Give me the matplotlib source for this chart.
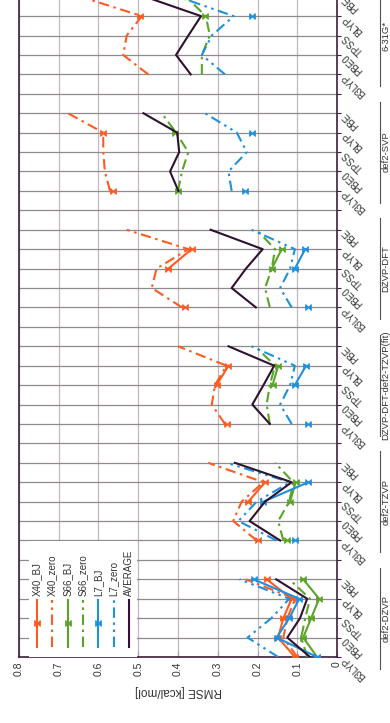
import numpy as np
import matplotlib.pyplot as plt
from matplotlib.path import Path

plt.rcParams["font.family"] = ["Liberation Sans", "DejaVu Sans"]

groups = ["def2-DZVP", "def2-TZVP", "DZVP-DFT-def2-TZVP(fit)", "DZVP-DFT", "def2-SVP", "6-31G*"]
functionals = ["B3LYP", "PBE0", "TPSS", "BLYP", "PBE"]
nan = np.nan

# RMSE per basis set, functionals in the order above
x40_bj = [0.106, 0.148, 0.135, 0.114, 0.177,
          0.198, nan, 0.223, 0.181, nan,
          0.276, nan, 0.303, 0.273, nan,
          0.382, nan, 0.424, 0.366, nan,
          0.563, nan, nan, 0.588, nan,
          nan, nan, nan, 0.496, nan]
x40_zero = [0.100, 0.135, 0.125, 0.105, 0.230,
            0.202, 0.261, 0.240, 0.185, 0.324,
            0.282, 0.315, 0.307, 0.278, 0.400,
            0.390, 0.466, 0.454, 0.374, 0.529,
            0.571, 0.584, 0.588, 0.588, 0.677,
            0.475, 0.538, 0.529, 0.491, 0.645]
s66_bj = [0.050, 0.085, 0.065, 0.045, 0.085,
          0.127, nan, 0.118, 0.104, nan,
          nan, nan, 0.162, 0.148, nan,
          nan, nan, 0.164, 0.139, nan,
          0.399, nan, nan, 0.408, nan,
          nan, nan, nan, 0.332, nan]
s66_zero = [0.075, 0.090, 0.080, 0.068, 0.120,
            0.135, 0.148, 0.120, 0.110, 0.156,
            0.169, 0.177, 0.169, 0.156, 0.206,
            0.169, 0.181, 0.164, 0.156, 0.202,
            0.400, 0.390, 0.374, 0.405, 0.441,
            0.340, 0.340, 0.320, 0.330, 0.380]
l7_bj = [0.050, 0.152, 0.120, 0.095, 0.210,
         0.106, nan, 0.185, 0.072, nan,
         0.072, nan, 0.106, 0.078, nan,
         0.072, nan, 0.106, 0.080, nan,
         0.231, nan, nan, 0.215, nan,
         nan, nan, nan, 0.215, nan]
l7_zero = [0.148, 0.225, 0.165, 0.120, 0.245,
           0.152, 0.248, 0.202, 0.118, 0.278,
           0.114, 0.143, 0.118, 0.106, 0.215,
           0.114, 0.143, 0.118, 0.106, 0.215,
           0.265, 0.273, 0.227, 0.252, 0.332,
           0.282, 0.340, 0.315, 0.260, 0.400]
average = [0.068, 0.125, 0.093, 0.075, 0.153,
           0.143, 0.220, 0.181, 0.114, 0.257,
           0.169, 0.213, 0.185, 0.158, 0.273,
           0.204, 0.265, 0.229, 0.187, 0.318,
           0.399, 0.420, 0.397, 0.402, 0.487,
           0.368, 0.405, 0.374, 0.342, 0.483]

c_x40 = "#ff5a1f"
c_s66 = "#5aa428"
c_l7 = "#1e90e0"
c_avg = "#2e1230"
dash1 = (0, (5, 2.2, 1.2, 2.2))
dash2 = (0, (5, 2.2, 1.2, 2.2, 1.2, 2.2))

# bowtie marker
bowtie = Path([(-1, -1), (-1, 1), (0, 0), (-1, -1), (1, -1), (1, 1), (0, 0), (1, -1)],
              [1, 2, 2, 79, 1, 2, 2, 79])

series = [
    ("X40_BJ", x40_bj, c_x40, "-", True),
    ("X40_zero", x40_zero, c_x40, dash1, False),
    ("S66_BJ", s66_bj, c_s66, "-", True),
    ("S66_zero", s66_zero, c_s66, dash1, False),
    ("L7_BJ", l7_bj, c_l7, "-", True),
    ("L7_zero", l7_zero, c_l7, dash2, False),
    ("AVERAGE", average, c_avg, "-", False),
]

nf = len(functionals)
ncat = len(groups) * (nf + 1) - 1
labels = []
for g in range(len(groups)):
    labels += functionals
    if g < len(groups) - 1:
        labels.append("")


def spread(vals):
    # insert an empty slot between basis-set blocks
    out = []
    for g in range(len(groups)):
        out += list(vals[g * nf:(g + 1) * nf])
        if g < len(groups) - 1:
            out.append(nan)
    return np.array(out, dtype=float)


fig = plt.figure(figsize=(3.9, 7.23), dpi=100)
ax = fig.add_axes([19 / 390, 66 / 723, 318 / 390, 660.3 / 723])
spine_c = "#3d1f3d"
pos = np.arange(ncat)

for name, vals, col, ls, mark in series:
    ax.plot(spread(vals), pos, color=col, ls=ls, lw=1.5,
            marker=bowtie if mark else None, ms=4, mew=0.8, zorder=3)

ax.set_xlim(0.8, 0)
ax.set_ylim(0, ncat - 1)
ax.set_xticks(np.arange(0, 0.81, 0.1))
ax.set_xticklabels(["0"] + ["%.1f" % v for v in np.arange(0.1, 0.81, 0.1)],
                   rotation=90, va="top", fontsize=7.5, color="#333333")
ax.set_yticks(pos)
ax.set_yticklabels(labels, fontsize=7, color="#333333")
ax.yaxis.tick_right()
plt.setp(ax.get_yticklabels(), rotation=135, ha="right", va="center",
         rotation_mode="anchor")
ax.tick_params(axis="y", length=3, width=0.8, color=spine_c, pad=2)
ax.tick_params(axis="x", direction="in", length=4, width=0.8, color="#a89aa6", pad=3)
ax.grid(axis="x", color="#c4b8c2", lw=0.9)
ax.grid(axis="y", color="#8f8a8f", lw=0.9)
ax.set_axisbelow(True)
for s in ax.spines.values():
    s.set_color(spine_c)
    s.set_linewidth(1.2)
ax.spines["top"].set_visible(False)

ax.set_xlabel("RMSE [kcal/mol]", rotation=180, fontsize=8.5, color="#333333", labelpad=7)

# basis-set names beyond the functional labels
for g, name in enumerate(groups):
    c = g * (nf + 1) + (nf - 1) / 2
    ax.text(1.153, c, name, transform=ax.get_yaxis_transform(), rotation=90,
            ha="center", va="center", fontsize=6.8, color="#333333", clip_on=False)
    ax.plot([1.135, 1.135], [g * (nf + 1) - 0.6, g * (nf + 1) + nf - 0.4],
            transform=ax.get_yaxis_transform(), color="#5a4a5a", lw=0.8, clip_on=False)

# legend drawn in axes coordinates
lx0, lx1 = 10 / 318, 118 / 318
ax.add_patch(plt.Rectangle((lx0, 0), lx1 - lx0, 116 / 660.3, transform=ax.transAxes,
                           facecolor="white", edgecolor="none", zorder=4))
for i, (name, vals, col, ls, mark) in enumerate(series):
    xl = (18 + 15.3 * i) / 318
    ax.plot([xl, xl], [10 / 660.3, 57 / 660.3], transform=ax.transAxes, color=col,
            ls=ls, lw=1.5, zorder=5)
    if mark:
        ax.plot([xl], [34 / 660.3], transform=ax.transAxes, color=col, marker=bowtie,
                ms=4, mew=0.8, zorder=5, ls="none")
    ax.text(xl, 61 / 660.3, name, transform=ax.transAxes, rotation=90, ha="center",
            va="bottom", fontsize=7, color="#333333", zorder=5)

fig.savefig("out.png", dpi=100)
